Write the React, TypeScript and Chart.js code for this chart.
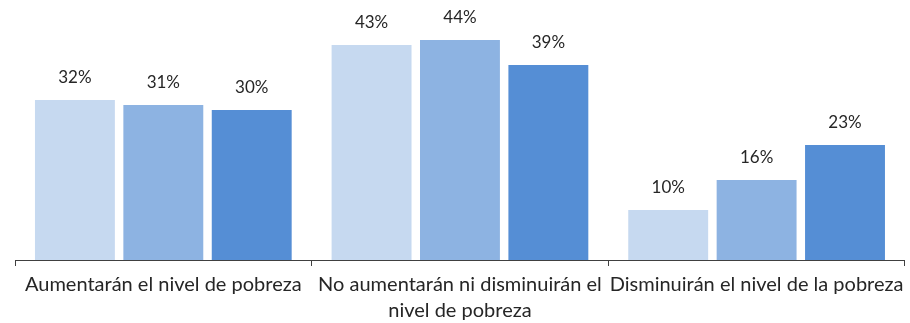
import React, { useEffect, useRef } from "react";
import { Chart, registerables } from "chart.js";

Chart.register(...registerables);

const categories: (string | string[])[] = [
  "Aumentarán el nivel de pobreza",
  ["No aumentarán ni disminuirán el", "nivel de pobreza"],
  "Disminuirán el nivel de la pobreza",
];
const series1 = [32, 43, 10];
const series2 = [31, 44, 16];
const series3 = [30, 39, 23];
const seriesNames = ["Serie 1", "Serie 2", "Serie 3"];
const colors = ["#c6d9f0", "#8db3e2", "#558ed5"];

const FONT = "Lato, 'Open Sans', sans-serif";

const valueLabels = {
  id: "valueLabels",
  afterDatasetsDraw(chart: any) {
    const ctx = chart.ctx;
    ctx.save();
    ctx.font = `17px ${FONT}`;
    ctx.fillStyle = "#262626";
    ctx.textAlign = "center";
    ctx.textBaseline = "alphabetic";
    chart.data.datasets.forEach((ds: any, i: number) => {
      const meta = chart.getDatasetMeta(i);
      meta.data.forEach((bar: any, j: number) => {
        ctx.fillText(`${ds.data[j]}%`, bar.x, bar.y - 17);
      });
    });
    ctx.restore();
  },
};

export default function App() {
  const ref = useRef<HTMLCanvasElement>(null);
  useEffect(() => {
    if (!ref.current) return;
    const data = [series1, series2, series3];
    const chart = new Chart(ref.current, {
      type: "bar",
      data: {
        labels: categories,
        datasets: data.map((d, i) => ({
          label: seriesNames[i],
          data: d,
          backgroundColor: colors[i],
          borderWidth: 0,
          barPercentage: 0.904,
          categoryPercentage: 0.894,
        })),
      },
      options: {
        animation: false,
        responsive: true,
        maintainAspectRatio: false,
        layout: { padding: { top: 20, left: 15, right: 3, bottom: -7 } },
        plugins: {
          legend: { display: false },
          tooltip: { enabled: false },
        },
        scales: {
          x: {
            grid: {
              display: true,
              drawOnChartArea: false,
              drawTicks: true,
              tickLength: 6,
              color: "#404040",
              offset: true,
            },
            border: { display: true, color: "#404040", width: 1 },
            ticks: {
              color: "#262626",
              font: { family: FONT, size: 20, lineHeight: 1.3 },
              maxRotation: 0,
              minRotation: 0,
              autoSkip: false,
              padding: 6,
            },
          },
          y: {
            display: false,
            min: 0,
            max: 48,
          },
        },
      },
      plugins: [valueLabels],
    });
    return () => chart.destroy();
  }, []);
  return (
    <div style={{ position: "absolute", left: 0, top: 0, width: 910, height: 323 }}>
      <canvas ref={ref} />
    </div>
  );
}
